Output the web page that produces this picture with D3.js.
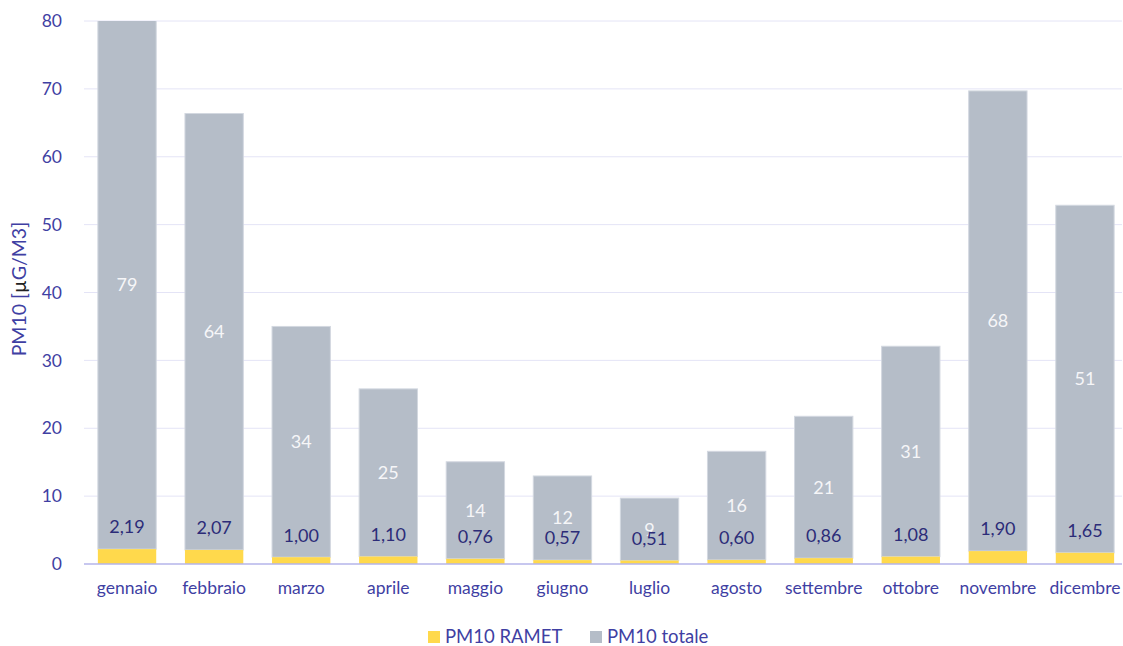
<!DOCTYPE html>
<html>
<head>
<meta charset="utf-8">
<script src="https://cdn.jsdelivr.net/npm/d3@7"></script>
<style>
  body { margin: 0; background: #fff; }
  svg { font-family: Lato, "Open Sans", sans-serif; }
</style>
</head>
<body>
<svg id="chart" width="1123" height="646"></svg>
<script>
// data
var months = ['gennaio', 'febbraio', 'marzo', 'aprile', 'maggio', 'giugno', 'luglio', 'agosto', 'settembre', 'ottobre', 'novembre', 'dicembre'];
var ramet = [2.19, 2.07, 1.00, 1.10, 0.76, 0.57, 0.51, 0.60, 0.86, 1.08, 1.90, 1.65];
var totale = [79.0, 64.3, 34.0, 24.7, 14.3, 12.4, 9.2, 16.0, 20.9, 31.0, 67.8, 51.2];
var yTicks = [0, 10, 20, 30, 40, 50, 60, 70, 80];

var cYellow = '#ffd94c', cGray = '#b5bdc8', cText = '#3f3fa3', cDark = '#2c2c78';
var margin = { left: 84, right: 1, top: 21, bottom: 82 };
var W = 1123, H = 646;

var svg = d3.select('#chart');
var x = d3.scaleBand().domain(months).range([83.5, 1128.5]).paddingInner(0.33).paddingOuter(0.165);
var y = d3.scaleLinear().domain([0, 80]).range([H - margin.bottom, margin.top]);

// grid
svg.append('g').selectAll('line').data(yTicks.slice(1)).join('line')
  .attr('x1', margin.left).attr('x2', W - margin.right)
  .attr('y1', d => y(d)).attr('y2', d => y(d))
  .attr('stroke', '#e4e4f6').attr('stroke-width', 1);

// y tick labels
svg.append('g').selectAll('text').data(yTicks).join('text')
  .attr('x', 62).attr('y', d => y(d)).attr('dy', '0.35em')
  .attr('text-anchor', 'end').style('fill', cText).style('font-size', '17.5px')
  .text(d => d);

// axis title
var t = svg.append('text').attr('transform', 'translate(26,' + y(40.5) + ') rotate(-90)')
  .attr('text-anchor', 'middle').style('fill', cText).style('font-size', '19.5px');
t.append('tspan').text('PM10 [');
t.append('tspan').style('fill', '#222').text('µ');
t.append('tspan').text('G/M3]');

// stacked bars, clipped at the top of the axis
svg.append('clipPath').attr('id', 'plotclip').append('rect')
  .attr('x', 0).attr('y', y(80)).attr('width', W).attr('height', y(0) - y(80));
var bars = svg.append('g').attr('clip-path', 'url(#plotclip)');
bars.selectAll('rect.tot').data(months).join('rect').attr('class', 'tot')
  .attr('x', d => x(d)).attr('width', x.bandwidth())
  .attr('y', (d, i) => y(ramet[i] + totale[i]))
  .attr('height', (d, i) => y(ramet[i]) - y(ramet[i] + totale[i]))
  .attr('fill', cGray).attr('stroke', '#d3d8e0').attr('stroke-width', 1);
bars.selectAll('rect.ram').data(months).join('rect').attr('class', 'ram')
  .attr('x', d => x(d)).attr('width', x.bandwidth())
  .attr('y', (d, i) => y(ramet[i]))
  .attr('height', (d, i) => y(0) - y(ramet[i]))
  .attr('fill', cYellow);

// baseline
svg.append('line').attr('x1', margin.left).attr('x2', W - margin.right)
  .attr('y1', y(0)).attr('y2', y(0)).attr('stroke', '#b4b4ea').attr('stroke-width', 1.5);

// labels for totale (centre of visible segment)
svg.append('g').selectAll('text').data(months).join('text')
  .attr('x', d => x(d) + x.bandwidth() / 2)
  .attr('y', (d, i) => (y(ramet[i]) + y(Math.min(80, ramet[i] + totale[i]))) / 2)
  .attr('dy', '0.35em').attr('text-anchor', 'middle')
  .style('fill', '#f6f6f8').style('font-size', '18px')
  .text((d, i) => Math.round(totale[i]));

// labels for RAMET
svg.append('g').selectAll('text').data(months).join('text')
  .attr('x', d => x(d) + x.bandwidth() / 2)
  .attr('y', (d, i) => y(ramet[i]) - 22)
  .attr('dy', '0.35em').attr('text-anchor', 'middle')
  .style('fill', cDark).style('font-size', '18px')
  .text((d, i) => d3.format('.2f')(ramet[i]).replace('.', ','));

// category labels
svg.append('g').selectAll('text').data(months).join('text')
  .attr('x', d => x(d) + x.bandwidth() / 2).attr('y', 588)
  .attr('dy', '0.35em').attr('text-anchor', 'middle')
  .style('fill', cText).style('font-size', '17.5px')
  .text(d => d);

// legend
var legend = [{ name: 'PM10 RAMET', color: cYellow, x: 428 }, { name: 'PM10 totale', color: cGray, x: 590 }];
var lg = svg.append('g').selectAll('g').data(legend).join('g')
  .attr('transform', d => 'translate(' + d.x + ',637)');
lg.append('rect').attr('x', 0).attr('y', -6).attr('width', 12).attr('height', 12).attr('fill', d => d.color);
lg.append('text').attr('x', 17).attr('dy', '0.35em').style('fill', cText).style('font-size', '18.5px').text(d => d.name);
</script>
</body>
</html>
